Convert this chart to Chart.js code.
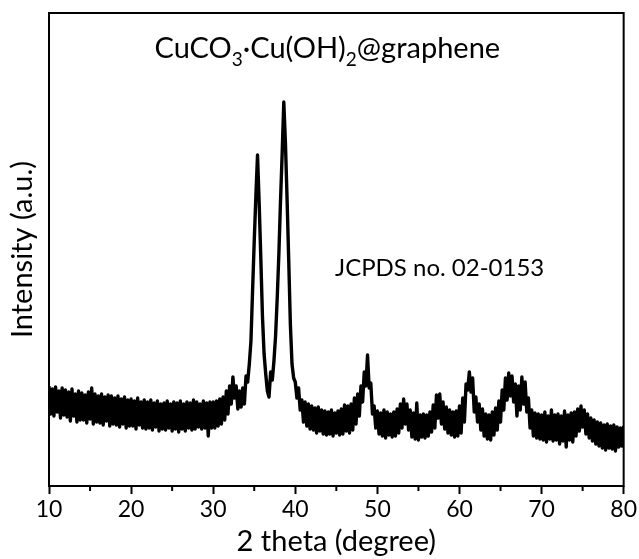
<!DOCTYPE html>
<html>
<head>
<meta charset="utf-8">
<script src="https://cdn.jsdelivr.net/npm/chart.js@4.4.0/dist/chart.umd.min.js"></script>
<style>
  html, body { margin: 0; padding: 0; background: #fff; }
</style>
</head>
<body>
<canvas id="xrd" width="639" height="559"></canvas>
<script>
const startAngle = 10;
const angleStep = 0.2;
const intensity = [
  100, 72, 97, 70, 99, 74, 95, 68, 98, 71,
  96, 69, 94, 65, 97, 70, 92, 64, 95, 66,
  93, 66, 91, 63, 94, 67, 98, 62, 92, 64,
  90, 63, 92, 61, 89, 65, 91, 60, 90, 62,
  88, 61, 90, 59, 87, 62, 89, 58, 86, 60,
  87, 60, 85, 57, 88, 61, 84, 58, 86, 57,
  84, 58, 86, 56, 83, 59, 85, 55, 82, 57,
  83, 56, 85, 58, 82, 55, 84, 57, 83, 54,
  85, 57, 82, 55, 84, 58, 83, 56, 86, 57,
  84, 59, 82, 57, 85, 58, 83, 50, 84, 58,
  84, 58, 85, 60, 87, 62, 89, 66, 95, 72,
  100, 82, 109, 88, 100, 77, 95, 79, 98, 82,
  110, 104, 122, 145, 196, 245, 290, 331, 283, 228,
  170, 132, 112, 95, 89, 114, 106, 125, 150, 188,
  232, 285, 332, 384, 343, 287, 226, 162, 122, 108,
  104, 88, 98, 76, 86, 64, 84, 60, 82, 57,
  80, 56, 78, 53, 79, 55, 76, 52, 75, 51,
  74, 52, 76, 50, 73, 53, 75, 51, 77, 52,
  81, 55, 80, 53, 82, 56, 88, 62, 92, 70,
  100, 84, 114, 100, 131, 98, 103, 72, 80, 58,
  75, 52, 73, 50, 76, 48, 74, 51, 72, 49,
  74, 50, 77, 53, 82, 58, 87, 62, 82, 56,
  76, 49, 73, 47, 83, 46, 71, 49, 72, 48,
  71, 50, 74, 54, 81, 58, 91, 68, 92, 62,
  84, 57, 79, 53, 76, 51, 74, 49, 75, 50,
  80, 53, 88, 64, 102, 96, 114, 94, 108, 74,
  89, 64, 82, 56, 77, 50, 72, 47, 71, 46,
  74, 51, 78, 56, 85, 64, 96, 76, 108, 86,
  113, 90, 110, 84, 102, 70, 100, 76, 109, 82,
  104, 74, 88, 58, 76, 50, 73, 48, 72, 47,
  71, 46, 74, 44, 70, 47, 76, 45, 71, 46,
  72, 42, 70, 45, 75, 39, 71, 46, 73, 44,
  74, 50, 77, 55, 80, 59, 76, 52, 72, 48,
  68, 45, 66, 42, 64, 40, 63, 38, 61, 36,
  62, 38, 60, 37, 61, 35, 59, 39, 58, 40,
  60
];
const xTicks = [10, 20, 30, 40, 50, 60, 70, 80];
const minorTicks = [15, 25, 35, 45, 55, 65, 75];
const titleParts = [["CuCO", false], ["3", true], ["\u00B7Cu(OH)", false], ["2", true], ["@graphene", false]];
const refLabel = "JCPDS no. 02-0153";

const points = intensity.map((v, i) => ({ x: +(startAngle + i * angleStep).toFixed(1), y: v }));

const framePlugin = {
  id: "frame",
  afterDraw(chart) {
    const { ctx, chartArea: a, scales } = chart;
    ctx.save();
    ctx.strokeStyle = "#000";
    ctx.lineWidth = 2;
    ctx.strokeRect(a.left, a.top, a.right - a.left, a.bottom - a.top);

    // minor ticks
    minorTicks.forEach((v) => {
      const px = scales.x.getPixelForValue(v);
      ctx.beginPath();
      ctx.moveTo(px, a.bottom);
      ctx.lineTo(px, a.bottom + 5);
      ctx.stroke();
    });

    // title with subscripts
    ctx.fillStyle = "#000";
    ctx.textBaseline = "alphabetic";
    ctx.textAlign = "left";
    const big = "29px Lato", small = "19px Lato";
    let total = 0;
    titleParts.forEach(([t, sub]) => { ctx.font = sub ? small : big; total += ctx.measureText(t).width; });
    let x = (a.left + a.right) / 2 - 9 - total / 2;
    titleParts.forEach(([t, sub]) => {
      ctx.font = sub ? small : big;
      ctx.fillText(t, x, sub ? 66 : 58);
      x += ctx.measureText(t).width;
    });

    ctx.font = "24px Lato";
    ctx.textBaseline = "middle";
    ctx.fillText(refLabel, 335, 268);
    ctx.restore();
  },
};

new Chart(document.getElementById("xrd"), {
  type: "line",
  data: {
    datasets: [{
      data: points,
      borderColor: "#000",
      borderWidth: 3.4,
      borderJoinStyle: "round",
      pointRadius: 0,
      tension: 0,
      fill: false,
    }],
  },
  options: {
    responsive: false,
    animation: false,
    layout: { padding: { top: 13, right: 15, left: 0, bottom: 0 } },
    plugins: { legend: { display: false }, tooltip: { enabled: false } },
    scales: {
      x: {
        type: "linear",
        min: 10, max: 80,
        afterBuildTicks: (s) => { s.ticks = xTicks.map((v) => ({ value: v })); },
        afterFit: (s) => { s.height = 73; },
        grid: { drawOnChartArea: false, drawTicks: true, tickLength: 8, tickWidth: 2, tickColor: "#000" },
        border: { display: false },
        ticks: { font: { family: "Lato", size: 23 }, color: "#000", padding: 2, maxRotation: 0 },
        title: { display: true, text: "2 theta (degree)", font: { family: "Lato", size: 29 }, color: "#000", padding: { top: 0, bottom: 0 } },
      },
      y: {
        min: 0, max: 473,
        afterFit: (s) => { s.width = 49; },
        grid: { display: false },
        border: { display: false },
        ticks: { display: false },
        title: { display: true, text: "Intensity (a.u.)", font: { family: "Lato", size: 29 }, color: "#000", padding: { top: 5, bottom: 0 } },
      },
    },
  },
  plugins: [framePlugin],
});
</script>
</body>
</html>
